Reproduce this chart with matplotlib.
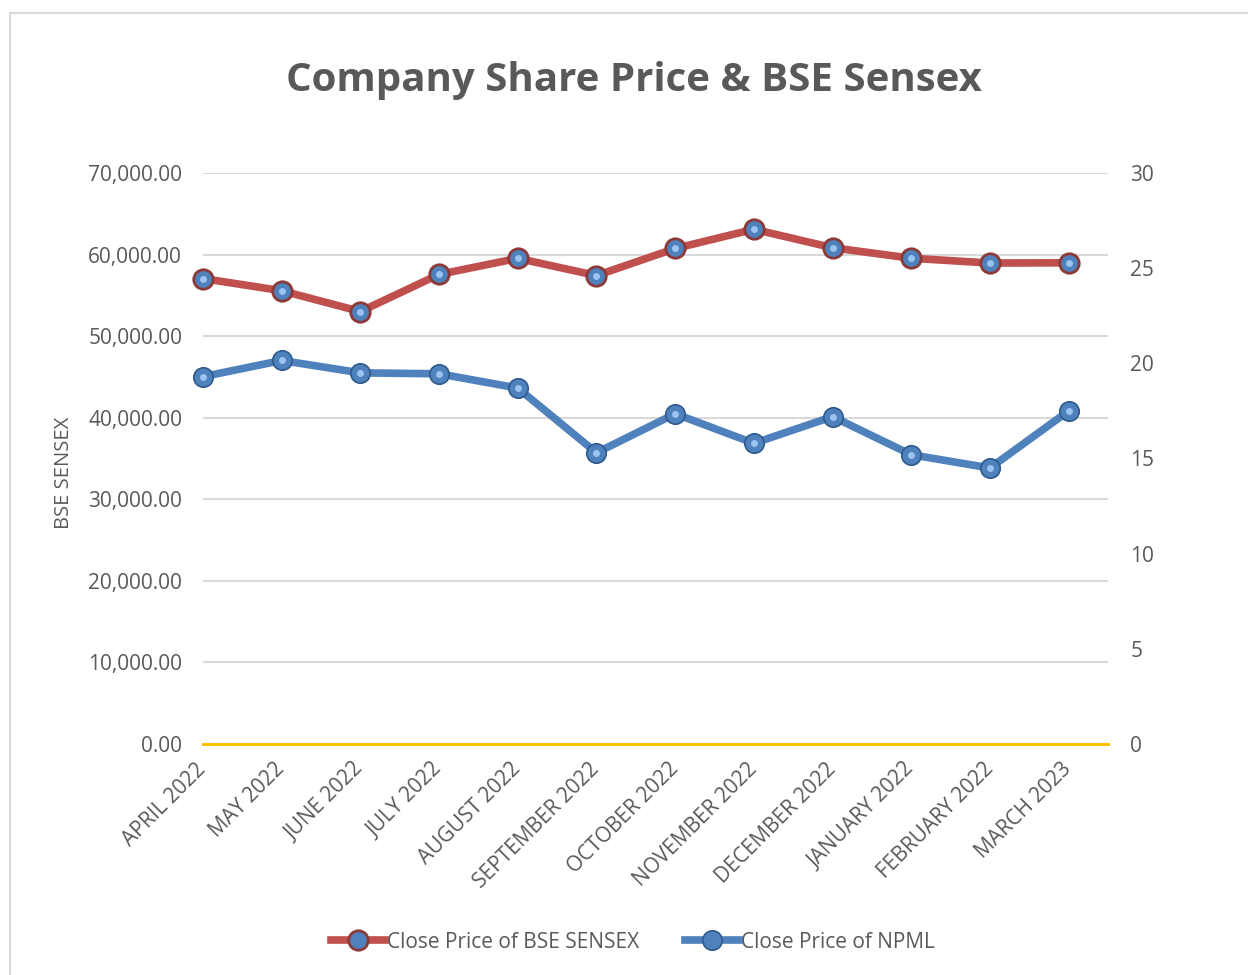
import matplotlib
matplotlib.use("Agg")
import matplotlib.pyplot as plt
from matplotlib.patches import Rectangle
from matplotlib.ticker import FuncFormatter
from matplotlib.lines import Line2D

months = ["APRIL 2022", "MAY 2022", "JUNE 2022", "JULY 2022", "AUGUST 2022",
          "SEPTEMBER 2022", "OCTOBER 2022", "NOVEMBER 2022", "DECEMBER 2022",
          "JANUARY 2022", "FEBRUARY 2022", "MARCH 2023"]
sensex = [57060.87, 55566.41, 53018.94, 57570.25, 59537.07, 57426.92,
          60746.59, 63099.65, 60840.74, 59549.90, 58962.12, 58991.52]
npml = [19.30, 20.15, 19.50, 19.45, 18.70, 15.30, 17.35, 15.80, 17.20, 15.20, 14.50, 17.50]
left_ticks = [0, 10000, 20000, 30000, 40000, 50000, 60000, 70000]
right_ticks = [0, 5, 10, 15, 20, 25, 30]

plt.rcParams['font.family'] = ['Open Sans', 'DejaVu Sans']
TXT = '#595959'
RED = '#C0504D'
BLUE = '#4F81BD'

fig = plt.figure(figsize=(12.48, 9.75), dpi=100)
fig.patch.set_facecolor('white')
fig.add_artist(Rectangle((10/1248, -0.05), 1.2, 1 - 13/975 + 0.05, transform=fig.transFigure,
                         fill=False, edgecolor='#D9D9D9', linewidth=1.5))

ax = fig.add_axes([203/1248, 1 - 744/975, (1108 - 203)/1248, (744 - 173)/975])
ax2 = ax.twinx()
x = list(range(len(months)))

ax.set_xlim(0, 11.5)
ax.set_ylim(0, 70000)
ax2.set_ylim(0, 30)
ax.set_yticks(left_ticks)
ax2.set_yticks(right_ticks)
ax.yaxis.set_major_formatter(FuncFormatter(lambda v, p: f"{v:,.2f}"))
for t in left_ticks[1:]:
    ax.axhline(t, color='#D9D9D9', linewidth=1.5, zorder=0)
ax.axhline(0, color='#FFC000', linewidth=2.2, zorder=1, clip_on=False)

for a in (ax, ax2):
    for s in a.spines.values():
        s.set_visible(False)
    a.tick_params(length=0, colors=TXT, labelsize=15)
ax.tick_params(axis='y', pad=15)
ax2.tick_params(axis='y', pad=16)

ax.set_xticks(x)
ax.set_xticklabels(months, rotation=45, ha='right', va='center', rotation_mode='anchor')
ax.tick_params(axis='x', pad=16, labelsize=15)

ax.set_ylabel("BSE SENSEX", color=TXT, fontsize=14.5)
ax.yaxis.set_label_coords(-0.143, 0.475)

ax.plot(x, sensex, color=RED, linewidth=5.5, zorder=3, clip_on=False,
        marker='o', markersize=14, markerfacecolor=BLUE, markeredgecolor='#8B3A38',
        markeredgewidth=2)
ax.plot(x, sensex, linestyle='none', marker='o', markersize=5, markerfacecolor='#9CC3F0',
        markeredgecolor='none', zorder=4, clip_on=False)
ax2.plot(x, npml, color=BLUE, linewidth=5.5, zorder=3, clip_on=False,
         marker='o', markersize=14, markerfacecolor=BLUE, markeredgecolor='#2F5A8C',
         markeredgewidth=1.2)
ax2.plot(x, npml, linestyle='none', marker='o', markersize=5, markerfacecolor='#9CC3F0',
         markeredgecolor='none', zorder=4, clip_on=False)

fig.text(0.508, 1 - 80/975, "Company Share Price & BSE Sensex", ha='center', va='center',
         fontsize=29, fontweight='bold', color=TXT)

handles = [
    Line2D([0], [0], color=RED, linewidth=5.5, marker='o', markersize=14,
           markerfacecolor=BLUE, markeredgecolor='#8B3A38', markeredgewidth=2),
    Line2D([0], [0], color=BLUE, linewidth=5.5, marker='o', markersize=14,
           markerfacecolor=BLUE, markeredgecolor='#2F5A8C', markeredgewidth=1.2),
]
leg = fig.legend(handles, ["Close Price of BSE SENSEX", "Close Price of NPML"],
                 loc='center', bbox_to_anchor=(0.507, 1 - 942/975), ncol=2, frameon=False,
                 fontsize=15, handlelength=2.6, columnspacing=2.2, handletextpad=0.1)
for t in leg.get_texts():
    t.set_color(TXT)

fig.savefig("out.png", dpi=100, facecolor='white')
